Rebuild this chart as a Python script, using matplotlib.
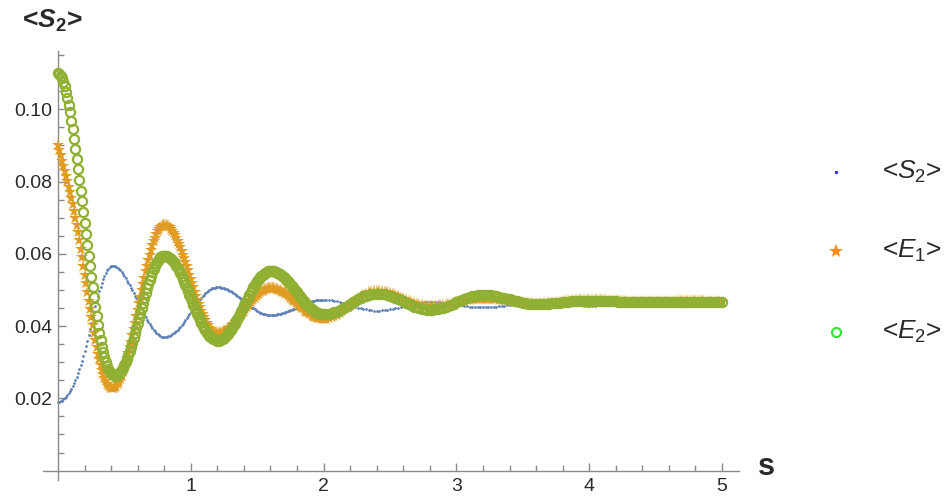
import numpy as np
import matplotlib
matplotlib.use("Agg")
import matplotlib.pyplot as plt

plt.rcParams['font.family'] = ['Liberation Sans', 'DejaVu Sans']
plt.rcParams['mathtext.fontset'] = 'custom'
plt.rcParams['mathtext.rm'] = 'Liberation Sans'
plt.rcParams['mathtext.it'] = 'Liberation Sans:italic'
plt.rcParams['mathtext.bf'] = 'Liberation Sans:bold'
plt.rcParams['mathtext.bfit'] = 'Liberation Sans:bold:italic'

# ── data ──────────────────────────────────────────────────────────────────────
# fine sampling s = 0.00 .. 2.00 (step 0.01), coarse s = 2.02 .. 5.00 (step 0.02)
S_FINE = np.round(np.arange(201) * 0.01, 2)
S_COARSE = np.round(2.02 + np.arange(150) * 0.02, 2)

S2_FINE = [
    .0190, .0191, .0192, .0194, .0197, .0200, .0204, .0209, .0214, .0220,
    .0227, .0234, .0242, .0251, .0260, .0270, .0281, .0292, .0304, .0317,
    .0331, .0345, .0360, .0376, .0392, .0408, .0424, .0440, .0455, .0470,
    .0484, .0497, .0509, .0520, .0530, .0539, .0547, .0554, .0559, .0563,
    .0566,
    .0567, .0567, .0566, .0564, .0561, .0558, .0554, .0549, .0544, .0538, .0532, .0526, .0520, .0513, .0506, .0499, .0492, .0484, .0477, .0469,
    .0461, .0453, .0446, .0438, .0431, .0424, .0417, .0411, .0405, .0399, .0394, .0389, .0385, .0381, .0378, .0375, .0373, .0371, .0370, .0370,
    .0370, .0371, .0372, .0373, .0375, .0378, .0380, .0383, .0386, .0390, .0394, .0398, .0402, .0407, .0412, .0417, .0422, .0428, .0433, .0439,
    .0444, .0449, .0455, .0460, .0465, .0470, .0475, .0479, .0483, .0487, .0491, .0494, .0497, .0500, .0502, .0504, .0505, .0506, .0507, .0507,
    .0507, .0507, .0506, .0505, .0504, .0503, .0502, .0500, .0498, .0496, .0494, .0491, .0489, .0486, .0483, .0480, .0478, .0475, .0472, .0469,
    .0466, .0463, .0460, .0457, .0454, .0451, .0449, .0446, .0444, .0441, .0439, .0437, .0436, .0434, .0433, .0432, .0431, .0431, .0430, .0430,
    .0430, .0430, .0431, .0431, .0432, .0432, .0433, .0434, .0435, .0436, .0438, .0439, .0441, .0442, .0444, .0445, .0447, .0448, .0450, .0452,
    .0453, .0455, .0457, .0458, .0460, .0461, .0463, .0464, .0466, .0467, .0468, .0469, .0470, .0471, .0472, .0472, .0473, .0473, .0473, .0473,
]
S2_COARSE = [
    .0473, .0472, .0471, .0470, .0469, .0467, .0465, .0463, .0461, .0458, .0456, .0453, .0451, .0449, .0447, .0446, .0445, .0444, .0443, .0443,
    .0443, .0444, .0444, .0445, .0447, .0448, .0450, .0451, .0453, .0455, .0457, .0459, .0460, .0462, .0464, .0465, .0466, .0466, .0467, .0467,
    .0467, .0467, .0466, .0466, .0465, .0464, .0463, .0462, .0461, .0460, .0458, .0457, .0456, .0455, .0454, .0453, .0453, .0452, .0452, .0452,
    .0452, .0452, .0453, .0453, .0454, .0455, .0456, .0456, .0457, .0459, .0460, .0461, .0462, .0463, .0463, .0464, .0465, .0465, .0466, .0466,
    .0466, .0466, .0465, .0465, .0465, .0464, .0463, .0463, .0462, .0461, .0460, .0459, .0459, .0458, .0458, .0457, .0457, .0456, .0456, .0456,
    .0456, .0456, .0457, .0457, .0457, .0458, .0458, .0459, .0460, .0460, .0461, .0462, .0463, .0463, .0464, .0464, .0465, .0465, .0465, .0465,
    .0465, .0465, .0465, .0465, .0464, .0464, .0463, .0463, .0463, .0462, .0462, .0462, .0461, .0461, .0461, .0460, .0460, .0460, .0460, .0460,
    .0460, .0460, .0461, .0461, .0461, .0462, .0462, .0462, .0463, .0463,
]

E1_FINE = [
    .0900, .0886, .0872, .0858, .0844, .0830, .0816, .0801, .0786, .0770,
    .0754, .0737, .0719, .0700, .0680, .0659, .0637, .0614, .0590, .0566,
    .0542, .0518, .0494, .0470, .0447, .0424, .0402, .0381, .0361, .0342,
    .0324, .0308, .0293, .0279, .0267, .0256, .0247, .0240, .0235, .0231,
    .0229,
    .0228, .0229, .0231, .0234, .0239, .0246, .0254, .0263, .0273, .0285, .0298, .0311, .0326, .0341, .0357, .0374, .0391, .0409, .0427, .0445,
    .0463, .0481, .0499, .0517, .0534, .0551, .0567, .0582, .0596, .0610, .0623, .0635, .0645, .0654, .0662, .0668, .0673, .0677, .0679, .0680,
    .0680, .0678, .0676, .0673, .0669, .0664, .0658, .0651, .0644, .0636, .0627, .0618, .0608, .0598, .0587, .0576, .0565, .0554, .0542, .0530,
    .0518, .0507, .0495, .0484, .0473, .0462, .0452, .0442, .0433, .0424, .0416, .0409, .0402, .0396, .0391, .0387, .0384, .0382, .0381, .0380,
    .0380, .0381, .0382, .0383, .0385, .0387, .0389, .0392, .0395, .0398, .0402, .0406, .0410, .0414, .0418, .0423, .0428, .0433, .0438, .0443,
    .0447, .0452, .0457, .0462, .0466, .0471, .0475, .0479, .0483, .0487, .0490, .0493, .0496, .0498, .0500, .0502, .0503, .0504, .0505, .0505,
    .0505, .0504, .0504, .0503, .0502, .0500, .0499, .0497, .0495, .0493, .0491, .0488, .0485, .0482, .0479, .0476, .0473, .0469, .0466, .0463,
    .0459, .0456, .0453, .0449, .0446, .0443, .0440, .0438, .0435, .0432, .0430, .0428, .0426, .0425, .0423, .0422, .0421, .0421, .0420, .0420,
]
E1_COARSE = [
    .0420, .0422, .0424, .0427, .0431, .0436, .0441, .0447, .0452, .0459, .0465, .0470, .0476, .0481, .0486, .0490, .0493, .0495, .0497, .0497,
    .0497, .0496, .0495, .0493, .0491, .0488, .0486, .0483, .0479, .0476, .0473, .0469, .0466, .0464, .0461, .0459, .0457, .0456, .0455, .0455,
    .0455, .0455, .0456, .0457, .0458, .0459, .0461, .0462, .0464, .0466, .0467, .0469, .0470, .0472, .0473, .0474, .0475, .0476, .0476, .0476,
    .0476, .0476, .0475, .0475, .0474, .0473, .0472, .0471, .0471, .0469, .0468, .0467, .0466, .0465, .0465, .0464, .0463, .0463, .0462, .0462,
    .0462, .0462, .0463, .0463, .0463, .0464, .0465, .0465, .0466, .0467, .0468, .0469, .0469, .0470, .0471, .0471, .0472, .0472, .0472, .0472,
    .0472, .0472, .0472, .0471, .0471, .0471, .0470, .0470, .0469, .0469, .0469, .0468, .0468, .0467, .0467, .0467, .0466, .0466, .0466, .0466,
    .0466, .0466, .0466, .0466, .0466, .0467, .0467, .0467, .0467, .0467, .0467, .0467, .0468, .0468, .0468, .0468, .0468, .0468, .0468, .0468,
    .0468, .0468, .0468, .0467, .0467, .0467, .0467, .0467, .0467, .0467,
]

E2_FINE = [
    .1100, .1098, .1093, .1086, .1076, .1064, .1049, .1032, .1012, .0991,
    .0968, .0944, .0918, .0891, .0863, .0834, .0805, .0775, .0745, .0715,
    .0685, .0655, .0625, .0595, .0566, .0537, .0508, .0480, .0453, .0427,
    .0403, .0381, .0361, .0343, .0327, .0313, .0300, .0290, .0281, .0274,
    .0269,
    .0266, .0264, .0263, .0263, .0265, .0268, .0272, .0278, .0284, .0292, .0300, .0309, .0319, .0330, .0342, .0354, .0367, .0380, .0394, .0408,
    .0422, .0436, .0450, .0464, .0478, .0491, .0504, .0516, .0528, .0539, .0549, .0558, .0566, .0574, .0580, .0586, .0590, .0593, .0595, .0595,
    .0595, .0594, .0592, .0589, .0586, .0582, .0578, .0573, .0567, .0561, .0554, .0547, .0539, .0531, .0523, .0514, .0505, .0496, .0487, .0478,
    .0468, .0459, .0450, .0441, .0432, .0424, .0416, .0408, .0401, .0394, .0388, .0382, .0377, .0373, .0370, .0367, .0365, .0363, .0361, .0360,
    .0360, .0361, .0363, .0365, .0368, .0371, .0374, .0378, .0383, .0388, .0394, .0400, .0406, .0413, .0420, .0427, .0434, .0441, .0449, .0457,
    .0464, .0472, .0479, .0486, .0493, .0500, .0507, .0513, .0519, .0525, .0530, .0535, .0539, .0542, .0545, .0548, .0550, .0552, .0553, .0553,
    .0553, .0552, .0551, .0550, .0548, .0546, .0544, .0541, .0538, .0535, .0532, .0528, .0524, .0520, .0516, .0511, .0507, .0502, .0497, .0493,
    .0488, .0483, .0479, .0474, .0470, .0465, .0461, .0457, .0454, .0450, .0447, .0444, .0441, .0439, .0437, .0435, .0434, .0433, .0432, .0432,
]
E2_COARSE = [
    .0432, .0433, .0435, .0438, .0440, .0444, .0448, .0452, .0456, .0461, .0466, .0470, .0474, .0478, .0482, .0484, .0487, .0488, .0490, .0490,
    .0490, .0489, .0488, .0486, .0483, .0481, .0478, .0474, .0471, .0468, .0464, .0461, .0457, .0454, .0452, .0449, .0447, .0446, .0445, .0445,
    .0445, .0446, .0447, .0449, .0451, .0453, .0456, .0459, .0462, .0466, .0469, .0472, .0475, .0478, .0480, .0482, .0484, .0485, .0486, .0486,
    .0486, .0485, .0485, .0484, .0482, .0481, .0479, .0477, .0475, .0474, .0472, .0470, .0468, .0466, .0465, .0463, .0462, .0462, .0461, .0461,
    .0461, .0461, .0462, .0462, .0462, .0463, .0463, .0464, .0465, .0466, .0466, .0467, .0468, .0468, .0469, .0469, .0470, .0470, .0470, .0470,
    .0470, .0470, .0470, .0470, .0469, .0469, .0469, .0468, .0468, .0468, .0467, .0467, .0467, .0466, .0466, .0466, .0466, .0466, .0466, .0466,
    .0466, .0466, .0466, .0466, .0466, .0467, .0467, .0467, .0467, .0467, .0467, .0467, .0467, .0467, .0467, .0467, .0467, .0467, .0467, .0467,
    .0467, .0467, .0467, .0467, .0467, .0467, .0467, .0467, .0467, .0467,
]

X_MAJOR = [1, 2, 3, 4, 5]
Y_MAJOR = [0.02, 0.04, 0.06, 0.08, 0.10]
Y_LABELS = ["0.02", "0.04", "0.06", "0.08", "0.10"]
LEGEND_LABELS = [r"<$\mathit{S}_{\mathrm{2}}$>", r"<$\mathit{E}_{\mathrm{1}}$>", r"<$\mathit{E}_{\mathrm{2}}$>"]

# ── colours ───────────────────────────────────────────────────────────────────
C_S2 = "#5E81B5"
C_E1 = "#E19C24"
C_E2 = "#8FB032"
C_AXIS = "#8a8a8a"
C_TEXT = "#2a2a2a"

s = np.concatenate([S_FINE, S_COARSE])
s2 = np.array(S2_FINE + S2_COARSE)
e1 = np.array(E1_FINE + E1_COARSE)
e2 = np.array(E2_FINE + E2_COARSE)
assert len(s) == len(s2) == len(e1) == len(e2), (len(s), len(s2), len(e1), len(e2))

W, H = 952, 504
fig = plt.figure(figsize=(W / 100, H / 100), dpi=100)

# axes box in pixels: x 43..739, y 50.7..480
ax = fig.add_axes([43 / W, (H - 480) / H, (739 - 43) / W, (480 - 50.7) / H])
ax.set_xlim(-0.113, 5.128)
ax.set_ylim(-0.0026, 0.1162)

ax.plot(s, s2, ls="none", marker="o", ms=2.0, mew=0, color=C_S2, zorder=2, clip_on=False)
ax.plot(s, e1, ls="none", marker="*", ms=9.5, mew=0, color=C_E1, zorder=3, clip_on=False)
ax.plot(s, e2, ls="none", marker="o", ms=6.6, mew=1.6, mfc="none", mec=C_E2, zorder=4, clip_on=False)

for side in ("top", "right"):
    ax.spines[side].set_visible(False)
ax.spines["left"].set_position(("data", 0))
ax.spines["bottom"].set_position(("data", 0))
for side in ("left", "bottom"):
    ax.spines[side].set_color(C_AXIS)
    ax.spines[side].set_linewidth(1.0)

ax.set_xticks(X_MAJOR)
ax.set_xticks([round(0.2 * k, 1) for k in range(1, 26) if k % 5], minor=True)
ax.set_yticks(Y_MAJOR)
ax.set_yticklabels(Y_LABELS)
ax.set_yticks([round(0.005 * k, 3) for k in range(1, 24) if k % 4], minor=True)
ax.tick_params(which="both", direction="in", color=C_AXIS, width=1.0,
               labelsize=14, labelcolor=C_TEXT)
ax.tick_params(which="major", length=6)
ax.tick_params(which="minor", length=4)
ax.tick_params(axis="x", pad=5)
ax.tick_params(axis="y", pad=4)
ax.patch.set_alpha(0)

# axis labels
fig.text(22 / W, 1 - 21 / H, r"<$\mathbfit{S}_{\mathbf{2}}$>", ha="left", va="center",
         fontsize=19, fontweight="bold", color=C_TEXT)
fig.text(766 / W, 1 - 467 / H, "s", ha="center", va="center",
         fontsize=22, fontweight="bold", color=C_TEXT)

# legend
leg_y = [172, 251, 332]
fig.lines.append(plt.Line2D([836 / W], [1 - leg_y[0] / H], transform=fig.transFigure,
                            ls="none", marker="o", ms=2.4, mew=0, color="#2030ff"))
fig.lines.append(plt.Line2D([836 / W], [1 - leg_y[1] / H], transform=fig.transFigure,
                            ls="none", marker="*", ms=10, mew=0, color="#ff8c1a"))
fig.lines.append(plt.Line2D([836 / W], [1 - leg_y[2] / H], transform=fig.transFigure,
                            ls="none", marker="o", ms=6.5, mew=1.5, mfc="none", mec="#2ee82e"))
for y, lab in zip(leg_y, LEGEND_LABELS):
    fig.text(882 / W, 1 - y / H, lab, ha="left", va="center", fontsize=19, color=C_TEXT)

fig.savefig("out.png", dpi=100)
